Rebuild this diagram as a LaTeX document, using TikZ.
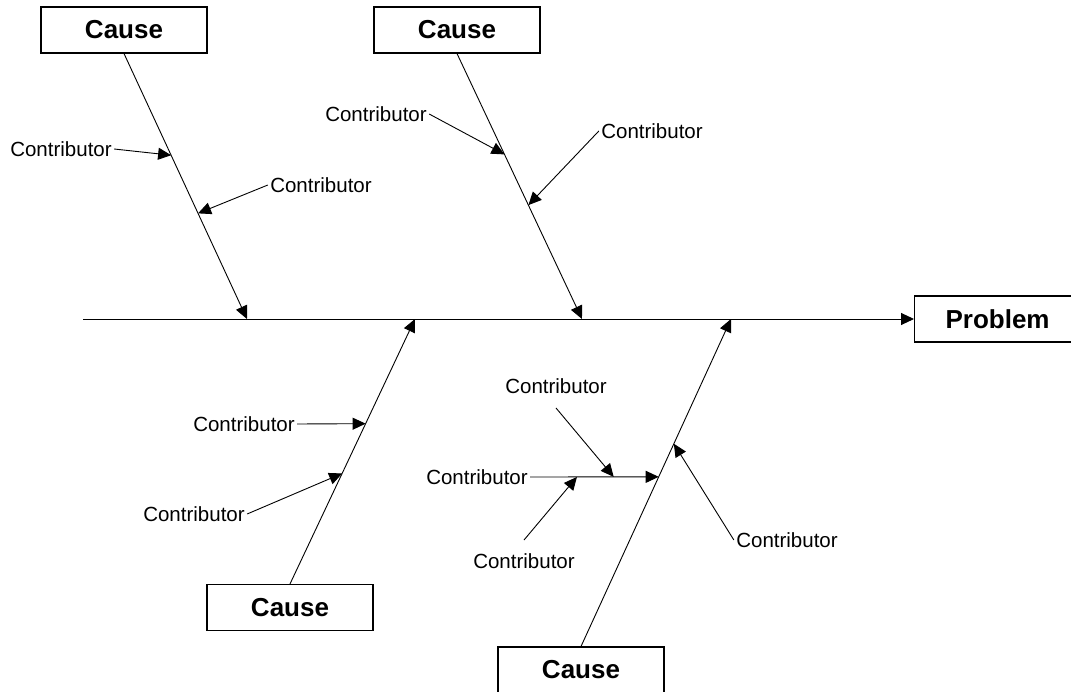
\documentclass[tikz,border=0pt]{standalone}
\usepackage{fontspec}
\setmainfont{Liberation Sans}
\usetikzlibrary{arrows.meta,calc}
\begin{document}
\begin{tikzpicture}[x=1pt,y=-1pt,>={Triangle[length=13pt,width=12pt]},line width=0.9pt,
    causebox/.style={draw,line width=1.1pt,minimum width=166pt,minimum height=46pt,inner sep=0pt,font=\fontsize{26}{30}\selectfont\bfseries},
    contrib/.style={inner sep=2pt,font=\fontsize{20.5}{24}\selectfont}]
    \useasboundingbox(0,0)rectangle(1071,692);
    % head, spine and causes
    \node[causebox,anchor=west](problem)at(914,319){Problem};
    \node[causebox](cause1)at(124,30){Cause};
    \node[causebox](cause2)at(457,30){Cause};
    \node[causebox](cause3)at(290,607.5){Cause};
    \node[causebox](cause4)at(581,670){Cause};
    \coordinate(tail)at(83,319);
    \coordinate(b1)at(247,319);\coordinate(b2)at(582,319);
    \coordinate(b3)at(415,319);\coordinate(b4)at(731,319);
    \draw[->](tail)--(problem.west);
    \draw[->](cause1.south)--(b1);
    \draw[->](cause2.south)--(b2);
    \draw[->](cause3.north)--(b3);
    \draw[->](cause4.north)--(b4);
    % contributors
    \node[contrib](k11)at(61,149){Contributor};
    \node[contrib](k12)at(321,185){Contributor};
    \node[contrib](k21)at(376,114){Contributor};
    \node[contrib](k22)at(652,131){Contributor};
    \node[contrib](k31)at(244,424){Contributor};
    \node[contrib](k32)at(194,514){Contributor};
    \node[contrib](k41)at(477,477){Contributor};
    \node[contrib](k42)at(556,386){Contributor};
    \node[contrib](k43)at(524,561){Contributor};
    \node[contrib](k44)at(787,540){Contributor};
    \coordinate(t11)at($(cause1.south)!0.383!(b1)$);
    \coordinate(t12)at($(cause1.south)!0.602!(b1)$);
    \coordinate(t21)at($(cause2.south)!0.38!(b2)$);
    \coordinate(t22)at($(cause2.south)!0.571!(b2)$);
    \coordinate(t31)at($(cause3.north)!0.605!(b3)$);
    \coordinate(t32)at($(cause3.north)!0.417!(b3)$);
    \coordinate(t41)at($(cause4.north)!0.518!(b4)$);
    \coordinate(t44)at($(cause4.north)!0.619!(b4)$);
    \coordinate(s42)at($(k41.east)!0.65!(t41)$);
    \coordinate(s43)at($(k41.east)!0.364!(t41)$);
    \draw[->](k11.east)--(t11);
    \draw[->](k12.west)--(t12);
    \draw[->](k21.east)--(t21);
    \draw[->](k22.west)--(t22);
    \draw[->](k31.east)--(t31);
    \draw[->](k32.east)--(t32);
    \draw[->](k41.east)--(t41);
    \draw[->]([yshift=-12pt]k42.south)--(s42);
    \draw[->]([yshift=11pt]k43.north)--(s43);
    \draw[->](k44.west)--(t44);
\end{tikzpicture}
\end{document}
